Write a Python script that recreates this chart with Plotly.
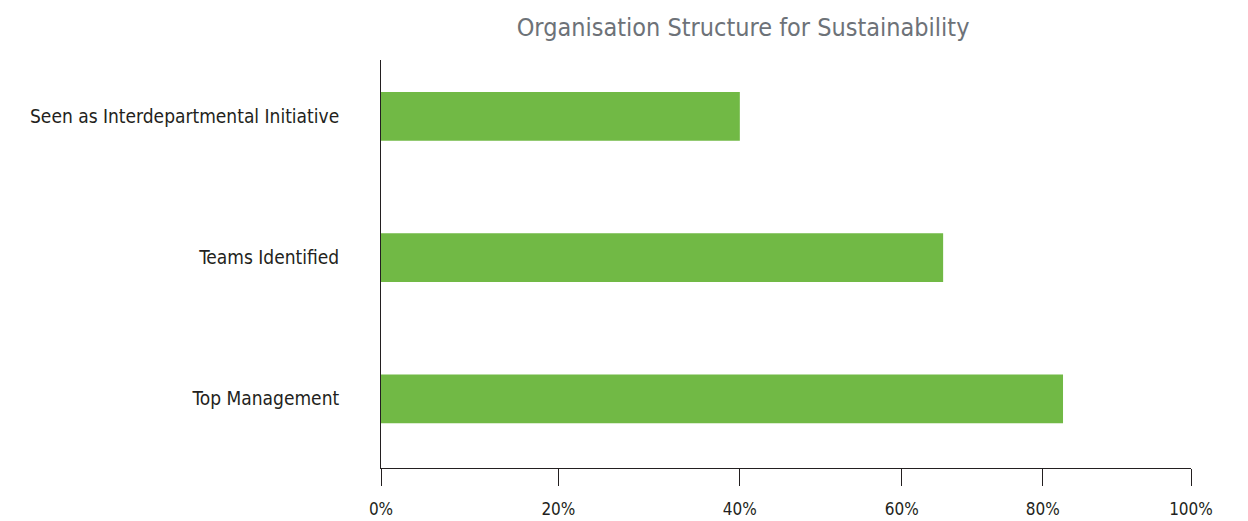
import plotly.graph_objects as go

categories = ["Top Management", "Teams Identified", "Seen as Interdepartmental Initiative"]
values = [84.2, 69.4, 44.3]
tick_positions = [0, 21.9, 44.3, 64.3, 81.7, 100]
tick_labels = ["0%", "20%", "40%", "60%", "80%", "100%"]
title_text = "Organisation Structure for Sustainability"

FONT = "DejaVu Sans Condensed, Liberation Sans Narrow, DejaVu Sans, sans-serif"

fig = go.Figure(
    go.Bar(
        x=values,
        y=categories,
        orientation="h",
        marker=dict(color="#71B945", line=dict(width=0)),
        width=0.345,
        hoverinfo="x+y",
    )
)

fig.update_layout(
    width=1248,
    height=521,
    margin=dict(l=381, r=57, t=60, b=53, autoexpand=False),
    paper_bgcolor="white",
    plot_bgcolor="white",
    showlegend=False,
    title=dict(
        text=title_text,
        font=dict(family=FONT, size=25, color="#6D7278"),
        x=0.447,
        xref="paper",
        xanchor="center",
        y=0.948,
        yref="container",
        yanchor="middle",
    ),
    font=dict(family=FONT, size=19, color="#231F20"),
)

fig.update_xaxes(
    range=[0, 100],
    tickvals=tick_positions,
    ticktext=tick_labels,
    showgrid=False,
    zeroline=False,
    showline=True,
    linecolor="#231F20",
    linewidth=1,
    ticks="outside",
    ticklen=17,
    tickcolor="#231F20",
    tickwidth=1,
    ticklabelstandoff=9,
    tickfont=dict(family=FONT, size=17, color="#231F20"),
    automargin=False,
    fixedrange=True,
)

fig.update_yaxes(
    type="category",
    categoryorder="array",
    categoryarray=categories,
    range=[-0.49, 2.40],
    showgrid=False,
    zeroline=False,
    showline=True,
    linecolor="#231F20",
    linewidth=1,
    ticks="",
    ticklabelstandoff=37,
    tickfont=dict(family=FONT, size=19, color="#231F20"),
    automargin=False,
    fixedrange=True,
)

fig.write_html(
    "out.html",
    config={"displayModeBar": False},
    post_script="document.body.style.margin='0';document.body.style.padding='0';",
)
